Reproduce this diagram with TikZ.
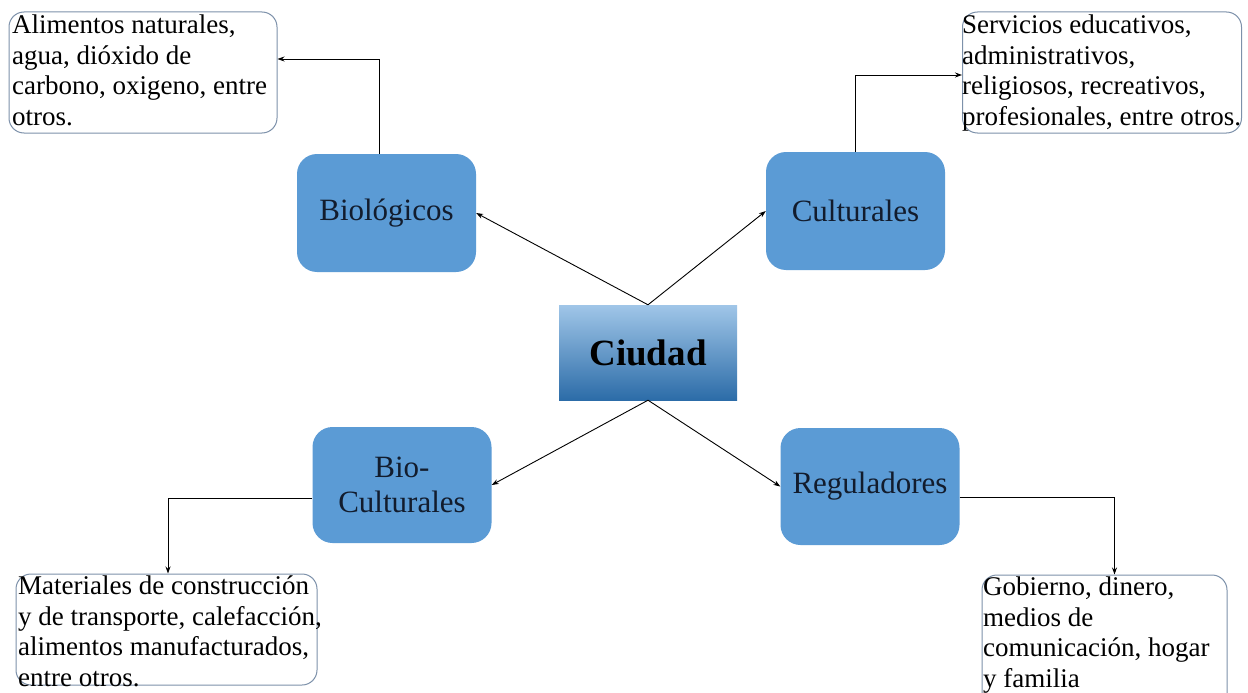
\documentclass[tikz,border=0pt]{standalone}
\usepackage{fontspec}
\setmainfont{Liberation Serif}
\usetikzlibrary{arrows.meta}
\definecolor{boxblue}{RGB}{91,155,213}
\definecolor{boxtext}{RGB}{18,28,45}
\definecolor{tborder}{RGB}{125,145,170}
\definecolor{ctop}{RGB}{160,198,232}
\definecolor{cbot}{RGB}{44,108,168}
\tikzset{
  bluebox/.style={rectangle, rounded corners=20pt, fill=boxblue, minimum width=179pt, minimum height=118pt, inner sep=0pt, text=boxtext, font=\fontsize{31}{35}\selectfont, align=center},
  tbox/.style={rectangle, rounded corners=15pt, draw=tborder, line width=1pt, inner sep=0pt},
  ttext/.style={anchor=north west, inner sep=0pt, align=left, font=\fontsize{27}{30.5}\selectfont},
  conn/.style={draw=black, line width=0.9pt, -{Stealth[length=7pt,width=5pt]}}
}
\begin{document}
\begin{tikzpicture}[x=1pt,y=-1pt]
\path[use as bounding box, clip] (0,0) rectangle (1248,693);
\fill[white] (0,0) rectangle (1248,693);
% central node
\node[rectangle, top color=ctop, bottom color=cbot, minimum width=178pt, minimum height=95pt, inner sep=0pt, font=\bfseries\fontsize{37}{40}\selectfont, text=black] (ciudad) at (648,352.5) {Ciudad};
% blue boxes
\node[bluebox] (bio) at (386.5,213) {Biológicos};
\node[bluebox] (cul) at (855.5,211) {Culturales};
\node[bluebox, minimum height=116pt] (bioc) at (402,485) {Bio-\\Culturales};
\node[bluebox, minimum height=117pt] (reg) at (870,486.5) {Reguladores};
% text boxes
\node[tbox, minimum width=268pt, minimum height=121pt] (tl) at (143,72.5) {};
\node[tbox, minimum width=279pt, minimum height=121pt] (tr) at (1102,72.5) {};
\node[tbox, minimum width=301pt, minimum height=111pt] (bl) at (166.5,629.5) {};
\node[tbox, minimum width=245pt, minimum height=135pt] (br) at (1104.5,642.5) {};
% texts
\node[ttext] (tltext) at (12,15) {Alimentos naturales,\\agua, dióxido de\\carbono, oxigeno, entre\\otros.};
\node[ttext] (trtext) at (962,15) {Servicios educativos,\\administrativos,\\religiosos, recreativos,\\profesionales, entre otros.};
\node[ttext] (bltext) at (18,576) {Materiales de construcción\\y de transporte, calefacción,\\alimentos manufacturados,\\entre otros.};
\node[ttext] (brtext) at (983,577) {Gobierno, dinero,\\medios de\\comunicación, hogar\\y familia};
% connectors
\draw[conn] (ciudad.north) -- (bio.east);
\draw[conn] (ciudad.north) -- (cul.west);
\draw[conn] (ciudad.south) -- (bioc.east);
\draw[conn] (ciudad.south) -- (reg.west);
\draw[conn] ([xshift=-7.5pt]bio.north) |- ([yshift=13.5pt]tl.east);
\draw[conn] (cul.north) |- ([yshift=-2.5pt]tr.west);
\draw[conn] ([yshift=-13pt]bioc.west) -| ([xshift=1.5pt]bl.north);
\draw[conn] ([yshift=-11pt]reg.east) -| ([xshift=10pt]br.north);
\end{tikzpicture}
\end{document}
